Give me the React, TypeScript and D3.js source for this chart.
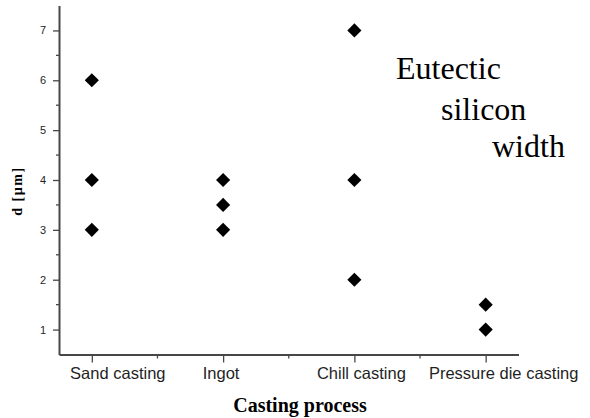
import { useEffect, useRef } from 'react'
import * as d3 from 'd3'

const CATEGORIES = ['Sand casting', 'Ingot', 'Chill casting', 'Pressure die casting']
const SAND = [6, 4, 3]
const INGOT = [4, 3.5, 3]
const CHILL = [7, 4, 2]
const PRESSURE = [1.5, 1]
const Y_TICKS = [1, 2, 3, 4, 5, 6, 7]
const NOTE_LINES = ['Eutectic', 'silicon', 'width']

// hand-placed label nudges, like the original figure
const LABEL_DX = [26, -2, 7, 18]
const NOTE_POS = [
  [396, 79],
  [441, 120],
  [492, 157],
]

const W = 590
const H = 418
const AXIS = '#474747'
const TEXT = '#1f1f1f'
const SERIF = "'Liberation Serif', 'Times New Roman', serif"
const SANS = "'Liberation Sans', Arial, sans-serif"

export default function App() {
  const ref = useRef<SVGSVGElement>(null)

  useEffect(() => {
    if (!ref.current) return
    const svg = d3.select(ref.current)
    svg.selectAll('*').remove()

    const x = d3.scaleLinear().domain([0.75, 4.25]).range([59, 518.5])
    const y = d3.scaleLinear().domain([0.5, 7.5]).range([354.5, 5.5])

    svg.append('rect').attr('width', W).attr('height', H).attr('fill', '#fff')

    // y axis
    const yAxis = svg
      .append('g')
      .attr('transform', `translate(${x(0.75)},0)`)
      .call(d3.axisLeft(y).tickValues(Y_TICKS).tickSize(6).tickSizeOuter(0).tickFormat(d3.format('d')))
    yAxis.select('.domain').attr('stroke', AXIS).attr('stroke-width', 2)
    yAxis.selectAll('.tick line').attr('stroke', AXIS).attr('stroke-width', 1.3)
    yAxis
      .selectAll('.tick text')
      .attr('x', -13)
      .attr('fill', TEXT)
      .attr('font-family', SANS)
      .attr('font-size', '11px')

    const minorY = d3.range(1.5, 7.5, 1)
    svg
      .append('g')
      .selectAll('line')
      .data(minorY)
      .join('line')
      .attr('x1', x(0.75) - 3)
      .attr('x2', x(0.75))
      .attr('y1', (d) => y(d))
      .attr('y2', (d) => y(d))
      .attr('stroke', AXIS)
      .attr('stroke-width', 1.3)

    // x axis
    const catPos = CATEGORIES.map((_, i) => i + 1)
    const xAxis = svg
      .append('g')
      .attr('transform', `translate(0,${y(0.5)})`)
      .call(d3.axisBottom(x).tickValues(catPos).tickSize(8).tickSizeOuter(0).tickFormat(() => ''))
    xAxis.select('.domain').attr('stroke', AXIS).attr('stroke-width', 2)
    xAxis.selectAll('.tick line').attr('stroke', AXIS).attr('stroke-width', 1.3)

    svg
      .append('g')
      .selectAll('line')
      .data([1.5, 2.5, 3.5])
      .join('line')
      .attr('x1', (d) => x(d))
      .attr('x2', (d) => x(d))
      .attr('y1', y(0.5))
      .attr('y2', y(0.5) + 4)
      .attr('stroke', AXIS)
      .attr('stroke-width', 1.3)

    svg
      .append('g')
      .selectAll('text')
      .data(CATEGORIES)
      .join('text')
      .attr('x', (_, i) => x(i + 1) + LABEL_DX[i])
      .attr('y', 379)
      .attr('text-anchor', 'middle')
      .attr('fill', TEXT)
      .attr('font-family', SANS)
      .attr('font-size', '16.5px')
      .text((d) => d)

    // axis titles
    svg
      .append('text')
      .attr('x', 300)
      .attr('y', 412)
      .attr('text-anchor', 'middle')
      .attr('font-family', SERIF)
      .attr('font-weight', 'bold')
      .attr('font-size', '20px')
      .attr('fill', '#000')
      .text('Casting process')

    svg
      .append('text')
      .attr('transform', 'translate(22,191) rotate(-90)')
      .attr('text-anchor', 'middle')
      .attr('font-family', SERIF)
      .attr('font-weight', 'bold')
      .attr('font-size', '14px')
      .attr('letter-spacing', '1.5px')
      .attr('fill', '#000')
      .text('d [µm]')

    // points
    const groups = [SAND, INGOT, CHILL, PRESSURE]
    const points = groups.flatMap((vals, i) => vals.map((v) => ({ c: i + 1, v })))
    const diamond = d3.symbol().type(d3.symbolSquare).size(100)
    svg
      .append('g')
      .selectAll('path')
      .data(points)
      .join('path')
      .attr('d', diamond)
      .attr('transform', (d) => `translate(${x(d.c)},${y(d.v)}) rotate(45)`)
      .attr('fill', '#000')

    // note
    svg
      .append('g')
      .selectAll('text')
      .data(NOTE_LINES)
      .join('text')
      .attr('x', (_, i) => NOTE_POS[i][0])
      .attr('y', (_, i) => NOTE_POS[i][1])
      .attr('font-family', SERIF)
      .attr('font-size', '32px')
      .attr('fill', '#000')
      .text((d) => d)
  }, [])

  return (
    <div style={{ position: 'fixed', left: 0, top: 0 }}>
      <svg ref={ref} width={W} height={H} style={{ display: 'block' }} />
    </div>
  )
}
